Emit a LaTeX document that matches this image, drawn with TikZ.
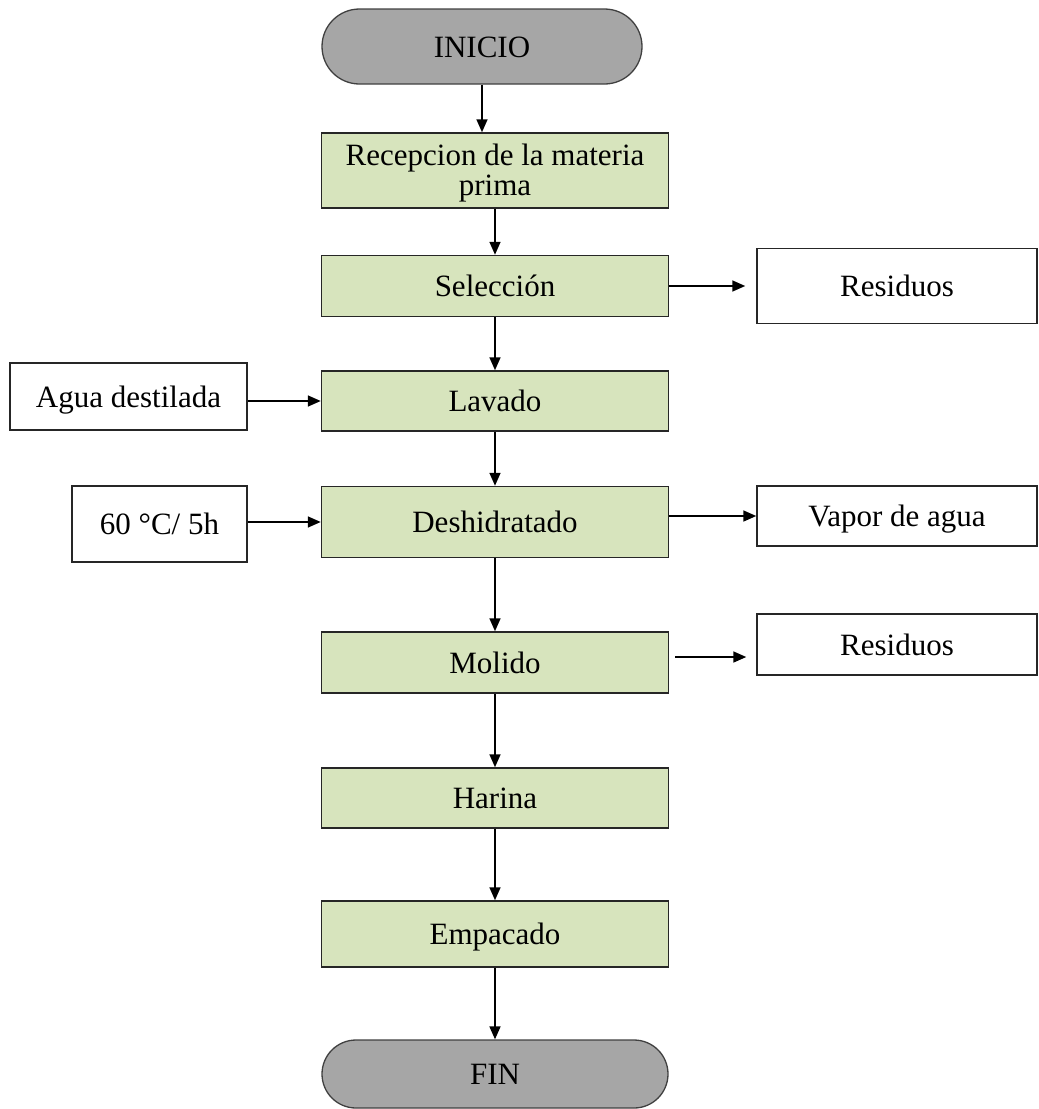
\documentclass[tikz,border=0pt]{standalone}
\usepackage{fontspec}
\setmainfont{Liberation Serif}
\usetikzlibrary{arrows.meta}
\definecolor{procgreen}{HTML}{D7E4BD}
\definecolor{termgray}{HTML}{A6A6A6}
\begin{document}
\begin{tikzpicture}[x=1pt,y=-1pt,
  every node/.style={font=\fontsize{31}{30}\selectfont, inner sep=0pt, align=center},
  oneline/.style={text height=21pt, text depth=0pt},
  proc/.style={draw=black!85, line width=1.5pt, fill=procgreen, minimum width=347pt},
  side/.style={draw=black!85, line width=1.5pt, fill=white, oneline},
  term/.style={draw=black!75, line width=1.3pt, fill=termgray, oneline},
  flow/.style={line width=1.7pt, -{Triangle[length=13pt,width=11pt]}}]
\useasboundingbox (0,0) rectangle (1039,1109);
% terminators
\node[term, minimum width=320pt, minimum height=75pt, rounded corners=37.5pt] (inicio) at (482,46.5) {INICIO};
\node[term, minimum width=346pt, minimum height=68pt, rounded corners=34pt] (fin) at (495,1074) {FIN};
% process boxes
\node[proc, minimum height=75pt] (recep) at (495,170.5) {};
\node[anchor=base] (receptext) at (495,195) {Recepcion de la materia\\prima};
\node[proc, oneline, minimum height=61pt] (sel) at (495,286) {Selección};
\node[proc, oneline, minimum height=60pt] (lav) at (495,401) {Lavado};
\node[proc, oneline, minimum height=71pt] (desh) at (495,522) {Deshidratado};
\node[proc, oneline, minimum height=61pt] (mol) at (495,662.5) {Molido};
\node[proc, oneline, minimum height=60pt] (har) at (495,798) {Harina};
\node[proc, oneline, minimum height=66pt] (emp) at (495,934) {Empacado};
% side boxes
\node[side, minimum width=280pt, minimum height=75pt] (res1) at (897,286) {Residuos};
\node[side, minimum width=237pt, minimum height=67pt] (agua) at (128.5,396.5) {Agua destilada};
\node[side, minimum width=175pt, minimum height=76pt] (temp) at (159.5,524) {60 °C/ 5h};
\node[side, minimum width=280pt, minimum height=60pt] (vapor) at (897,516) {Vapor de agua};
\node[side, minimum width=280pt, minimum height=61pt] (res2) at (897,644.5) {Residuos};
% main flow
\draw[flow] (inicio.south) -- (inicio.south |- recep.north);
\draw[flow] (recep.south) -- (sel.north);
\draw[flow] (sel) -- (lav);
\draw[flow] (lav) -- (desh);
\draw[flow] (desh) -- (mol);
\draw[flow] (mol) -- (har);
\draw[flow] (har) -- (emp);
\draw[flow] (emp) -- (fin);
% side flows
\draw[flow, shorten >=11pt] (sel) -- (res1);
\draw[flow] (agua.east |- lav.west) -- (lav.west);
\draw[flow] (temp.east |- desh.west) -- (desh.west);
\draw[flow] (desh.east |- vapor.west) -- (vapor.west);
\coordinate (molout) at ([xshift=6pt,yshift=5.5pt]mol.east);
\draw[flow, shorten >=10pt] (molout) -- (molout -| res2.west);
\end{tikzpicture}
\end{document}
